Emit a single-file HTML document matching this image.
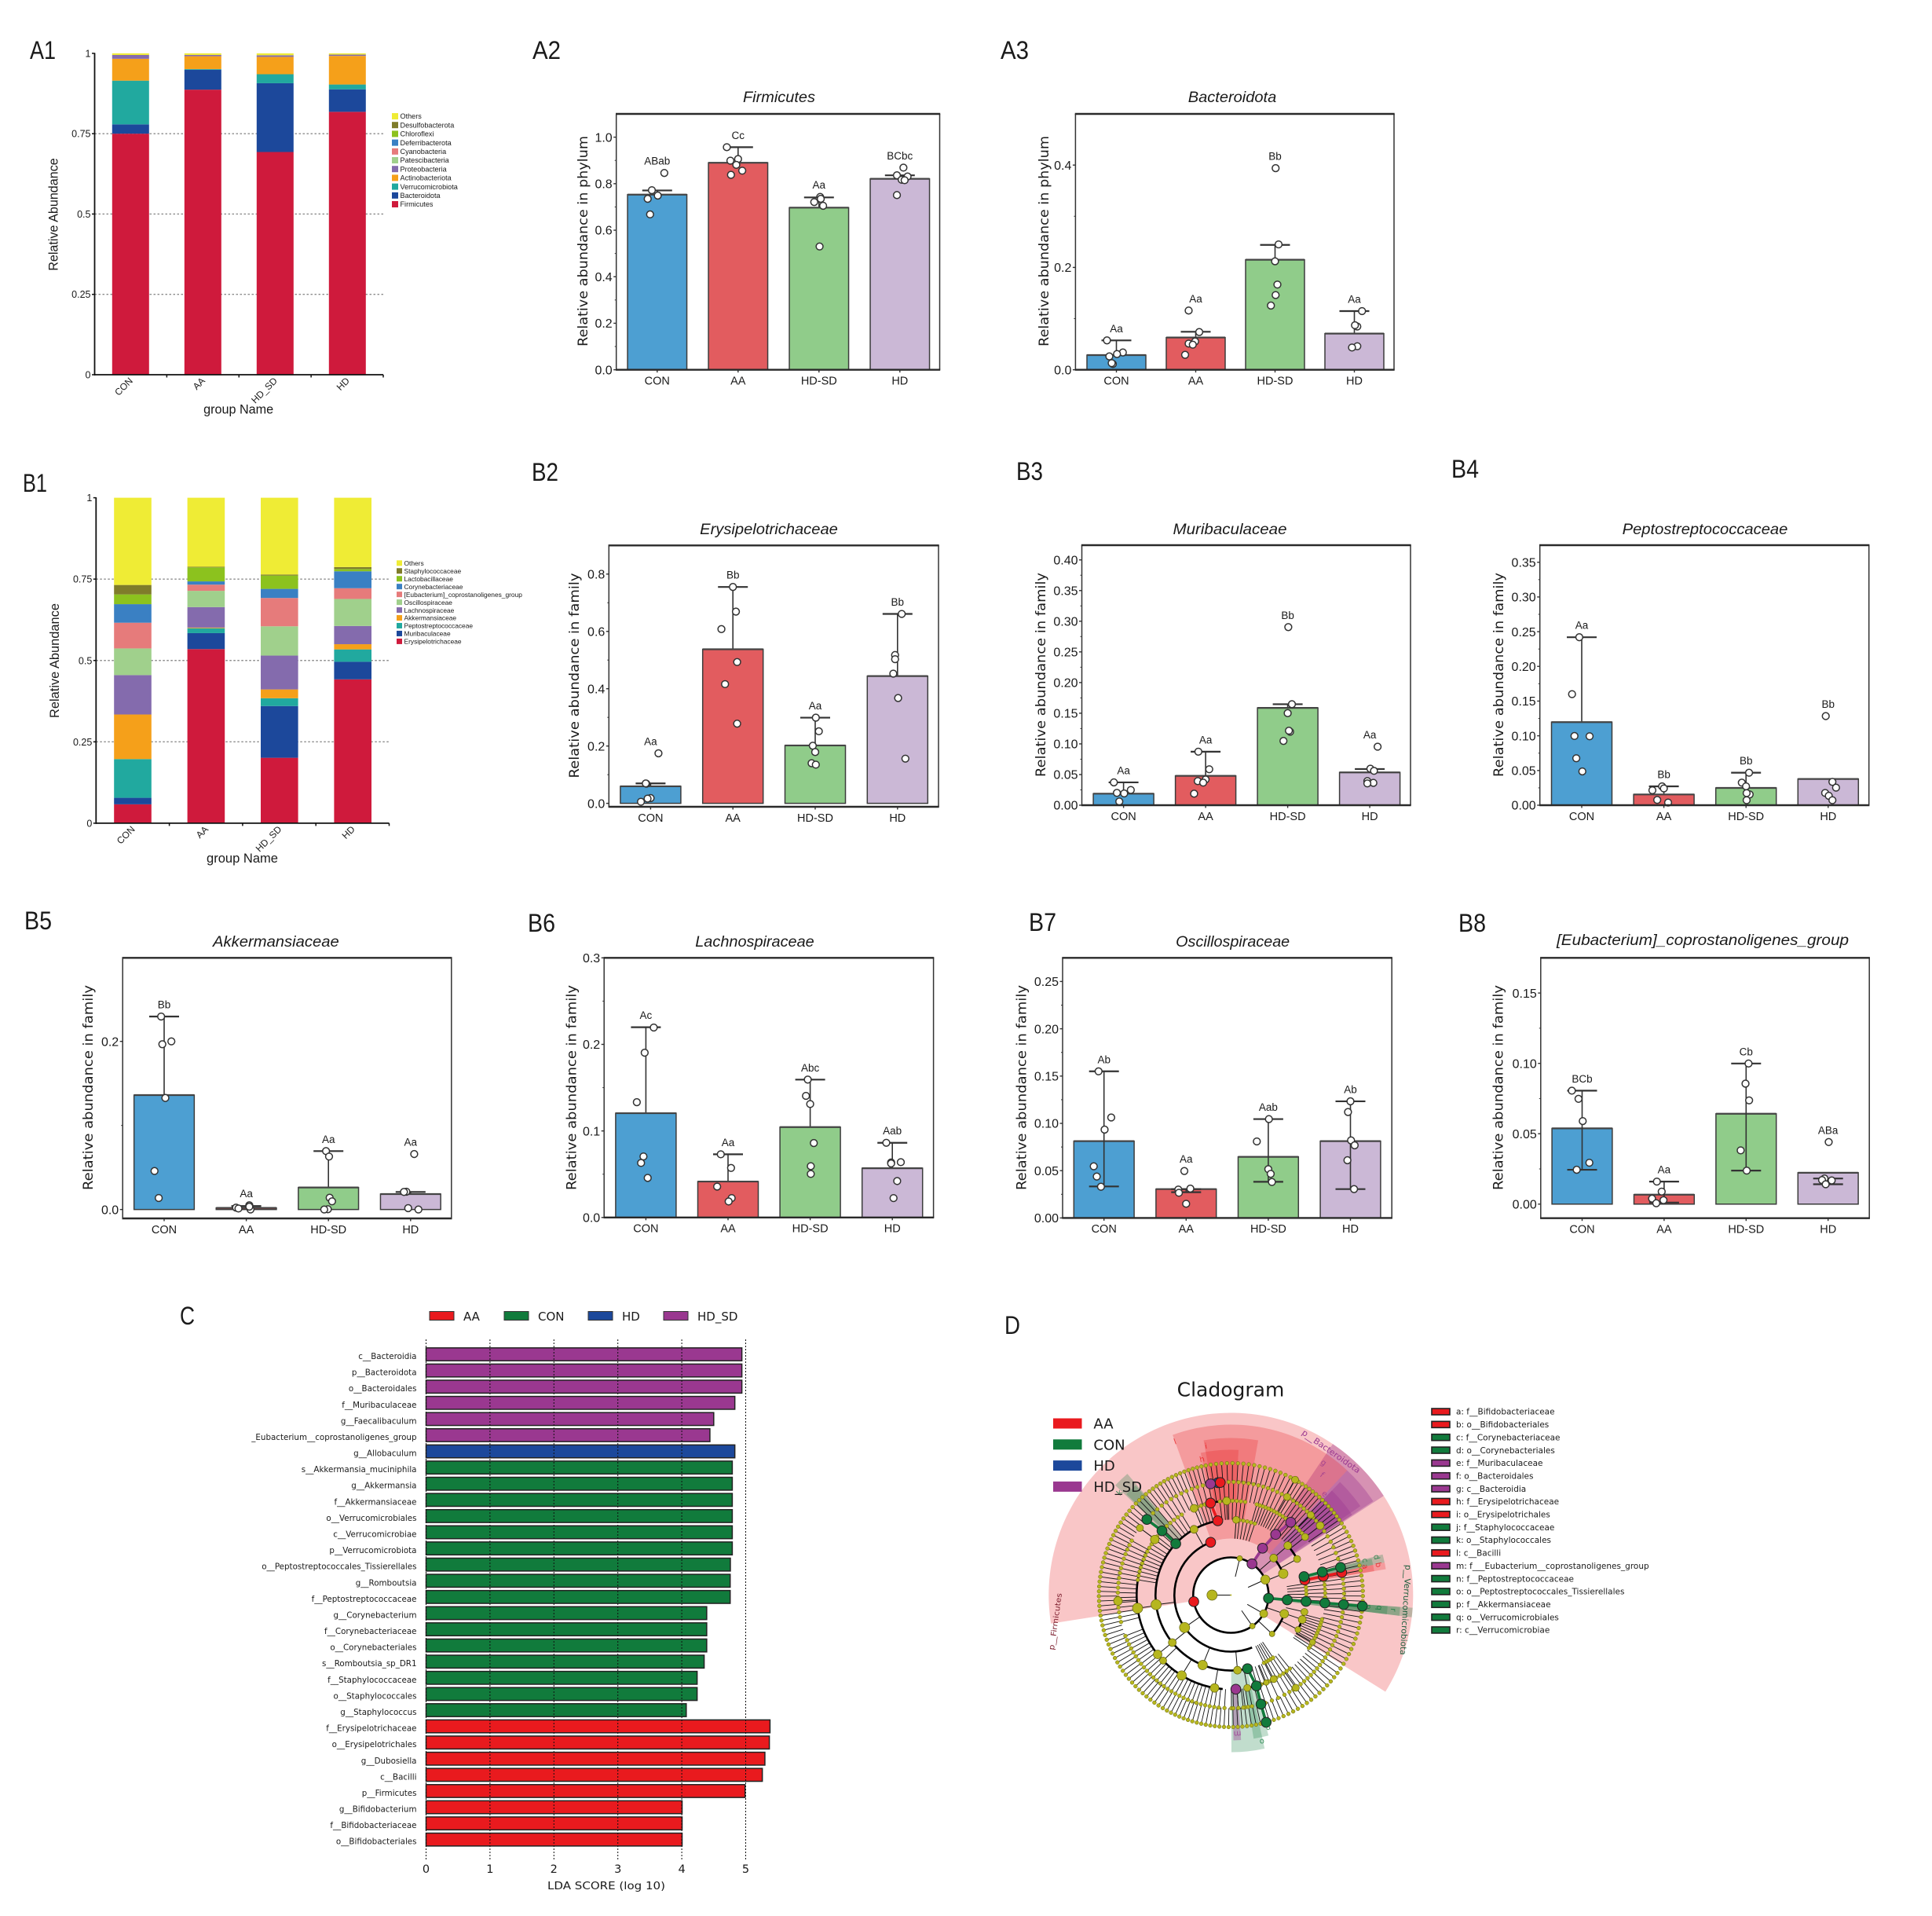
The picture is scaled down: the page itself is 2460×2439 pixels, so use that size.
<!DOCTYPE html>
<html lang="en">
<head>
<meta charset="utf-8">
<title>Gut microbiota composition panels</title>
<style>
html,body{margin:0;padding:0;background:#fff;}
svg{display:block;}
text{fill:#1a1a1a;}
</style>
</head>
<body>
<svg id="figure" xmlns="http://www.w3.org/2000/svg" width="2460" height="2439" viewBox="0 0 2460 2439" font-family="'Liberation Sans',sans-serif">
<rect x="0" y="0" width="2460" height="2439" fill="#fff"/>
<g font-size="32">
<text x="38" y="75" textLength="33" lengthAdjust="spacingAndGlyphs">A1</text>
<text x="678" y="75" textLength="36" lengthAdjust="spacingAndGlyphs">A2</text>
<text x="1274" y="75" textLength="36" lengthAdjust="spacingAndGlyphs">A3</text>
<text x="29" y="626" textLength="31" lengthAdjust="spacingAndGlyphs">B1</text>
<text x="677" y="612" textLength="34" lengthAdjust="spacingAndGlyphs">B2</text>
<text x="1294" y="611" textLength="34" lengthAdjust="spacingAndGlyphs">B3</text>
<text x="1848" y="608" textLength="35" lengthAdjust="spacingAndGlyphs">B4</text>
<text x="31" y="1183" textLength="35" lengthAdjust="spacingAndGlyphs">B5</text>
<text x="672" y="1186" textLength="35" lengthAdjust="spacingAndGlyphs">B6</text>
<text x="1310" y="1185" textLength="35" lengthAdjust="spacingAndGlyphs">B7</text>
<text x="1857" y="1186" textLength="35" lengthAdjust="spacingAndGlyphs">B8</text>
<text x="229" y="1686" textLength="19" lengthAdjust="spacingAndGlyphs">C</text>
<text x="1279" y="1698" textLength="20" lengthAdjust="spacingAndGlyphs">D</text>
</g>
<g id="panel-a1"></g>
<g id="panel-b1"></g>
<g id="panel-a2"></g>
<g id="panel-a3"></g>
<g id="panel-b2"></g>
<g id="panel-b3"></g>
<g id="panel-b4"></g>
<g id="panel-b5"></g>
<g id="panel-b6"></g>
<g id="panel-b7"></g>
<g id="panel-b8"></g>
<g id="panel-c"></g>
<g id="panel-d"></g>
</svg>
<script>
/* ---------- shared categories ---------- */
const barGroups=['CON','AA','HD-SD','HD'];
const stackGroups=['CON','AA','HD_SD','HD'];
const stackTickLabels=['0','0.25','0.5','0.75','1'];

/* ---------- A1 stacked phylum values ---------- */
const a1Taxa=['Firmicutes','Bacteroidota','Verrucomicrobiota','Actinobacteriota','Proteobacteria','Patescibacteria','Cyanobacteria','Deferribacterota','Chloroflexi','Desulfobacterota','Others'];
const a1Firmicutes=[.750,.887,.693,.818];
const a1Bacteroidota=[.029,.062,.214,.070];
const a1Verrucomicrobiota=[.136,.002,.028,.015];
const a1Actinobacteriota=[.068,.040,.054,.089];
const a1Proteobacteria=[.012,.004,.005,.004];
const a1Patescibacteria=[0,0,0,0];
const a1Cyanobacteria=[0,0,0,0];
const a1Deferribacterota=[0,0,0,0];
const a1Chloroflexi=[0,0,0,0];
const a1Desulfobacterota=[0,0,0,0];
const a1Others=[.005,.005,.006,.004];

/* ---------- B1 stacked family values ---------- */
const b1Taxa=['Erysipelotrichaceae','Muribaculaceae','Peptostreptococcaceae','Akkermansiaceae','Lachnospiraceae','Oscillospiraceae','[Eubacterium]_coprostanoligenes_group','Corynebacteriaceae','Lactobacillaceae','Staphylococcaceae','Others'];
const b1Erysipelotrichaceae=[.058,.535,.201,.442];
const b1Muribaculaceae=[.020,.049,.159,.054];
const b1Peptostreptococcaceae=[.119,.015,.024,.038];
const b1Akkermansiaceae=[.137,.002,.027,.016];
const b1Lachnospiraceae=[.121,.063,.104,.056];
const b1Oscillospiraceae=[.082,.050,.090,.083];
const b1Eubacterium=[.079,.019,.087,.033];
const b1Corynebacteriaceae=[.057,.010,.028,.052];
const b1Lactobacillaceae=[.030,.043,.041,.007];
const b1Staphylococcaceae=[.029,.002,.003,.006];
const b1Others=[.268,.212,.236,.213];

/* ---------- bar panels ---------- */
const a2TickLabels=['0.0','0.2','0.4','0.6','0.8','1.0'];
const a2Means=[.753,.890,.697,.821];
const a2High=[.771,.957,.741,.836];
const a2Low=[null,null,null,null];
const a2Points=[[.846,.772,.749,.735,.668],[.957,.906,.899,.881,.856,.838],[.743,.721,.735,.705,.530],[.869,.836,.831,.817,.815,.751]];
const a2Jitter=[[.12,-.09,.01,-.16,-.12],[-.19,0,-.13,-.03,.07,-.12],[.02,-.08,.03,.07,.01],[.06,-.05,.13,.03,.08,-.05]];
const a2Letters=['ABab','Cc','Aa','BCbc'];

const a3TickLabels=['0.0','0.2','0.4'];
const a3Means=[.0287,.063,.215,.0707];
const a3High=[.0574,.0743,.244,.1147];
const a3Low=[null,null,null,null];
const a3Points=[[.0574,.0338,.0307,.0261,.0113,.013],[.1157,.0737,.0553,.0512,.049,.0292],[.394,.245,.212,.1665,.146,.1255],[.1147,.0845,.087,.046,.0435]];
const a3Jitter=[[-.16,.11,.01,-.12,-.06,-.08],[-.12,.06,-.01,-.12,-.05,-.18],[.01,.06,0,.04,.01,-.07],[.13,.05,.01,.05,-.04]];
const a3Letters=['Aa','Aa','Bb','Aa'];

const b2TickLabels=['0.0','0.2','0.4','0.6','0.8'];
const b2Means=[.0594,.5376,.202,.444];
const b2High=[.0695,.755,.299,.661];
const b2Low=[null,null,null,null];
const b2Points=[[.1746,.0686,.0183,.0055,.0165,.0695],[.755,.669,.608,.493,.416,.278],[.299,.2514,.201,.179,.14,.135],[.661,.5175,.503,.4526,.3675,.156]];
const b2Jitter=[[.13,-.07,0,-.16,-.05,-.08],[0,.05,-.19,.07,-.13,.07],[.01,.06,-.04,0,-.06,.01],[.07,-.04,-.04,-.07,.01,.13]];
const b2Letters=['Aa','Bb','Aa','Bb'];

const b3TickLabels=['0.00','0.05','0.10','0.15','0.20','0.25','0.30','0.35','0.40'];
const b3Means=[.0188,.0479,.1587,.0535];
const b3High=[.0372,.0873,.1647,.059];
const b3Low=[null,null,null,null];
const b3Points=[[.0372,.0248,.0201,.0192,.006],[.0873,.0586,.0419,.0393,.0368,.0188],[.2904,.1647,.1501,.1198,.1215,.1048],[.0954,.0595,.056,.0393,.0364,.0355]];
const b3Jitter=[[-.16,.12,-.11,.01,-.07],[-.12,.06,0,-.13,-.04,-.19],[.01,.07,0,.04,.02,-.07],[.13,.01,.07,-.04,.06,-.04]];
const b3Letters=['Aa','Aa','Bb','Aa'];

const b4TickLabels=['0.00','0.05','0.10','0.15','0.20','0.25','0.30','0.35'];
const b4Means=[.1197,.0155,.0249,.0378];
const b4High=[.242,.0272,.0468,.0336];
const b4Low=[null,null,null,null];
const b4Points=[[.242,.160,.0997,.0993,.0676,.0487],[.0272,.0242,.0215,.0076,.0038],[.0468,.0325,.0272,.0155,.0174,.0072],[.1284,.0336,.0253,.0177,.0136,.0072]];
const b4Jitter=[[-.04,-.16,-.12,.13,-.09,.01],[-.03,0,-.19,-.11,.07],[.05,-.07,0,.06,.01,.01],[-.04,.07,.13,-.05,.01,.07]];
const b4Letters=['Aa','Bb','Bb','Bb'];

const b5TickLabels=['0.0','0.2'];
const b5Means=[.1361,.0019,.0262,.0184];
const b5High=[.2296,.0041,.0695,.0209];
const b5Low=[null,null,null,null];
const b5Points=[[.2296,.2,.1966,.1327,.0458,.0137],[.005,.0022,.0012,0,.0034],[.0695,.063,.014,.0097,.0003,0],[.066,.0212,.0209,.0016,0]];
const b5Jitter=[[-.05,.12,-.03,.02,-.16,-.09],[.05,-.17,-.13,.07,.05],[-.04,.01,.02,.06,-.01,-.07],[.06,-.07,-.11,-.04,.13]];
const b5Letters=['Bb','Aa','Aa','Aa'];

const b6TickLabels=['0.0','0.1','0.2','0.3'];
const b6Means=[.1205,.0415,.1044,.0569];
const b6High=[.2198,.073,.1593,.0863];
const b6Low=[null,null,null,null];
const b6Points=[[.2195,.1904,.1332,.0705,.063,.0457],[.073,.0572,.0357,.0224,.0185],[.1593,.1405,.1311,.086,.0593,.0503],[.0863,.0639,.0636,.0624,.0421,.0224]];
const b6Jitter=[[.13,-.02,-.15,-.04,-.08,.03],[-.12,.05,-.18,.06,.01],[-.04,-.07,0,.06,.01,.01],[-.1,.14,-.02,-.02,.08,.02]];
const b6Letters=['Ac','Aa','Abc','Aab'];

const b7TickLabels=['0.00','0.05','0.10','0.15','0.20','0.25'];
const b7Means=[.0812,.0305,.0646,.0812];
const b7High=[.155,.0305,.1045,.1233];
const b7Low=[.0333,.0272,.0382,.0305];
const b7Points=[[.155,.1062,.0934,.0546,.0438,.033],[.0496,.031,.03,.0266,.015],[.1045,.0809,.0516,.0466,.038],[.1233,.112,.082,.0768,.061,.0305]];
const b7Jitter=[[-.09,.12,.01,-.17,-.12,-.05],[-.03,.07,-.13,-.12,0],[.01,-.19,0,.04,.06],[0,-.04,.01,.07,-.05,.06]];
const b7Letters=['Ab','Aa','Aab','Ab'];

const b8TickLabels=['0.00','0.05','0.10','0.15'];
const b8Means=[.0538,.0067,.0642,.0223];
const b8High=[.0806,.016,.0999,.0182];
const b8Low=[.0244,.0011,.0238,.0141];
const b8Points=[[.0806,.0748,.059,.0294,.0244],[.016,.0089,.0039,.0028,.0006],[.0999,.0856,.0737,.0382,.0238],[.0441,.0182,.0171,.0168,.0141]];
const b8Jitter=[[-.17,-.06,.01,.12,-.09],[-.12,-.04,-.2,-.01,-.13],[.04,-.01,.05,-.09,.01],[.01,-.06,-.1,.06,-.04]];
const b8Letters=['BCb','Aa','Cb','ABa'];

/* ---------- C LDA values ---------- */
const ldaNames=['c__Bacteroidia','p__Bacteroidota','o__Bacteroidales','f__Muribaculaceae','g__Faecalibaculum','_Eubacterium__coprostanoligenes_group','g__Allobaculum','s__Akkermansia_muciniphila','g__Akkermansia','f__Akkermansiaceae','o__Verrucomicrobiales','c__Verrucomicrobiae','p__Verrucomicrobiota','o__Peptostreptococcales_Tissierellales','g__Romboutsia','f__Peptostreptococcaceae','g__Corynebacterium','f__Corynebacteriaceae','o__Corynebacteriales','s__Romboutsia_sp_DR1','f__Staphylococcaceae','o__Staphylococcales','g__Staphylococcus','f__Erysipelotrichaceae','o__Erysipelotrichales','g__Dubosiella','c__Bacilli','p__Firmicutes','g__Bifidobacterium','f__Bifidobacteriaceae','o__Bifidobacteriales'];
const ldaScores=[4.94,4.94,4.94,4.83,4.50,4.44,4.83,4.79,4.79,4.79,4.79,4.79,4.79,4.76,4.757,4.757,4.39,4.39,4.39,4.35,4.24,4.24,4.07,5.38,5.37,5.30,5.26,4.99,4.005,4.005,4.005];
const ldaClasses=['HD_SD','HD_SD','HD_SD','HD_SD','HD_SD','HD_SD','HD','CON','CON','CON','CON','CON','CON','CON','CON','CON','CON','CON','CON','CON','CON','CON','CON','AA','AA','AA','AA','AA','AA','AA','AA'];
const ldaTicks=[0,1,2,3,4,5];
const ldaLegend=['AA','CON','HD','HD_SD'];

/* ---------- D cladogram values (ring radius, angle in degrees) ---------- */
const cladeLegendNames=['AA','CON','HD','HD_SD'];
const cladeKeyLabels=['a: f__Bifidobacteriaceae','b: o__Bifidobacteriales','c: f__Corynebacteriaceae','d: o__Corynebacteriales','e: f__Muribaculaceae','f: o__Bacteroidales','g: c__Bacteroidia','h: f__Erysipelotrichaceae','i: o__Erysipelotrichales','j: f__Staphylococcaceae','k: o__Staphylococcales','l: c__Bacilli','m: f___Eubacterium__coprostanoligenes_group','n: f__Peptostreptococcaceae','o: o__Peptostreptococcales_Tissierellales','p: f__Akkermansiaceae','q: o__Verrucomicrobiales','r: c__Verrucomicrobiae'];
const cladeKeyClasses=['AA','AA','CON','CON','HD_SD','HD_SD','HD_SD','AA','AA','CON','CON','AA','HD_SD','CON','CON','CON','CON','CON'];
const sectorStart=[-32,33,47,33.4,34.5,33.5,80,87,130.5,131,12,12,9.5,9.5,-7,-7,-7,-89.8,-81,-89];
const sectorEnd=[189,56,110,47,46,46,100,102,136.5,136,15,14.5,12,12,-4,-4,-4,-77.6,-75,-86];
const sectorInner=[48,48,72,72,96,120,96,120,96,120,96,120,96,120,72,96,120,96,120,120];
const sectorOuter=[232,232,217,217,200,185,200,185,203,185,200,185,200,185,232,216,200,200,185,185];
const sectorClass=['AA','HD_SD','AA','HD_SD','HD_SD','HD_SD','AA','AA','CON','CON','CON','CON','AA','AA','CON','CON','CON','CON','CON','HD_SD'];
const arcRadius=[48,72,72,72,96,96,96,120,120,120];
const arcStart=[0,111,22,-43,100,28.6,-27,158,92,-80];
const arcEnd=[360,292,41,-19,283,41,-13,265,102,-63];
const ringRadius=[168,168,168,168,168,168,168,168,168,144,144,144,144,144,144,144,144,144,144,144,120,120,120,120,120,120,120,120,120,96,96,96];
const ringStart=[-6,32,62,100,135,190,240,290,325,-3,14,-30,-60,-95,200,270,150,100,62,40,-5,40,60,80,100,120,146,-35,-75,70,-6,-65];
const ringEnd=[32,62,100,135,190,240,290,325,354,12,36,-5,-30,-60,265,280,195,135,100,62,10,60,75,98,112,143,172,-14,-50,85,10,-55];
const ringCounts=[17,16,16,18,26,23,25,15,12,6,7,10,13,10,28,4,18,12,15,10,6,9,8,7,5,8,10,12,10,5,6,5];
const nodeRadius=[24,48,48,48,48,72,72,96,96,120,144,144,144,168,72,72,96,96,96,120,120,96,120,120,96,120,144,96,120,144,72,96,120,120,96,96,120,120,120,120,144];
const nodeAngle=[180,24.3,-29.5,-55.3,76.5,22.2,40.9,41,28.6,38.1,37.9,45.1,60.2,60.9,-19.3,-43.3,-18.9,-12.9,-27.2,-30,92.6,86,113,143.9,119.3,188,143.6,187.3,219,183,215,219,224,238.5,248,-85,260,-80,-63,-68,-55];
const nodeSize=[6.5,5.8,5,3.5,3.5,6,5,5,4.5,4.5,5,4.5,4.5,4.5,5.5,3.5,5,4.5,3.8,3.8,5,4.5,5,5.5,5,6.5,4.5,6.5,5.5,5.5,6.5,5,4.5,6,6,5,5.5,4.5,4.5,3.5,4.5];
const biomarkerRadius=[48,72,96,120,144,144,144,48,72,96,120,96,120,144,96,120,144,96,120,144,48,72,96,120,144,168,96,120,144,168,120];
const biomarkerAngle=[190,111,100,102.5,96.6,95.4,100.4,56,56,53.6,50.6,137,137,138,11.5,11.5,11.5,14.2,14.2,14.2,-4.8,-4.8,-4.8,-4.8,-4.8,-4.8,-77.3,-74.3,-74.6,-74.5,-87];
const biomarkerClass=['AA','AA','AA','AA','HD','AA','HD_SD','HD_SD','HD_SD','HD_SD','HD_SD','CON','CON','CON','AA','AA','AA','CON','CON','CON','CON','CON','CON','CON','CON','CON','CON','CON','CON','CON','HD_SD'];
const sectorLetters=['h','i','l','k','g','f','e','a','c','d','b','p','q','r','m','o','n'];
const sectorLetterRadius=[177,192.5,208,193,206,192.5,176,175,176.7,192,192,176,190,208,177,191,176];
const sectorLetterAngle=[102,99.5,110,137.4,55,52.8,47.2,12,14.5,14.6,11.6,-4.9,-4.9,-5.2,-87.3,-78,-74.3];
const sectorLetterClass=['AA','AA','AA','CON','HD_SD','HD_SD','HD_SD','AA','CON','CON','AA','CON','CON','CON','HD_SD','CON','CON'];

/* ---------- drawing helpers ---------- */
const NS='http://www.w3.org/2000/svg';
function mk(tag,parent,attrs){
  const el=document.createElementNS(NS,tag);
  for(const k in attrs){el.setAttribute(k,attrs[k]);}
  parent.appendChild(el);
  return el;
}
function txt(parent,str,attrs){
  const el=mk('text',parent,attrs);
  el.textContent=str;
  return el;
}
const barColors=['#4d9fd2','#e25c5f','#90cc8a','#cbb8d6'];
const taxaColors=['#cf1a3c','#1c489b','#21a99f','#f5a01a','#846bad','#a0d08c','#e67b7b','#3a80c3','#8cc21e','#7f7c2a','#efec35'];
const classColors={AA:'#e91a1e',CON:'#117b3c',HD:'#1c489b',HD_SD:'#9a3890'};

/* ---------- stacked bars ---------- */
function drawStack(p){
  const g=document.getElementById(p.id);
  const yS=v=>p.y0-(v*(p.y0-p.y1));
  const xS=i=>p.firstCenter+i*p.step;
  const gridValues=[.25,.5,.75];
  gridValues.forEach(v=>{
    const el=mk('line',g,{x1:p.axisX,x2:p.axisEnd,y1:yS(v),y2:yS(v),stroke:'#8c8c8c','stroke-width':1.4,'stroke-dasharray':'2.5 2.5'});
    
    
  });
  stackGroups.forEach((name,i)=>{
    let cum=0;
    p.series.forEach((vals,s)=>{
      const h=vals[i];
      if(h>0){
        const el=mk('rect',g,{x:xS(i)-p.barW/2,y:yS(cum+h),width:p.barW,height:yS(cum)-yS(cum+h),fill:taxaColors[s]});
        
        
      }
      cum+=h;
    });
    const lx=xS(i)+3.5;
    const ly=p.y0+8.5;
    const lab=txt(g,name,{x:lx,y:ly,'font-size':12,'text-anchor':'end',transform:'rotate(-45 '+lx+' '+ly+')'});
    
    
    const tx=p.axisX+(i+1)*(p.axisEnd-p.axisX)/4;
    const tk=mk('line',g,{x1:tx,x2:tx,y1:p.y0,y2:p.y0+3.5,stroke:'#111','stroke-width':1.5});
    
    
  });
  const ax=mk('line',g,{x1:p.axisX,x2:p.axisX,y1:p.y1-.5,y2:p.y0+1,stroke:'#111','stroke-width':1.8});
  
  
  const ax2=mk('line',g,{x1:p.axisX,x2:p.axisEnd,y1:p.y0,y2:p.y0,stroke:'#111','stroke-width':1.8});
  
  
  stackTickLabels.forEach(t=>{
    const v=parseFloat(t);
    const tk=mk('line',g,{x1:p.axisX-3.5,x2:p.axisX,y1:yS(v),y2:yS(v),stroke:'#111','stroke-width':1.5});
    
    
    const lb=txt(g,t,{x:p.axisX-5,y:yS(v)+4.5,'font-size':12.5,'text-anchor':'end'});
    
    
  });
  const yt=txt(g,'Relative Abundance',{x:p.yLabelX,y:p.yLabelCy,'font-size':16.5,'text-anchor':'middle',textLength:p.yLabelLen,lengthAdjust:'spacingAndGlyphs',transform:'rotate(-90 '+p.yLabelX+' '+p.yLabelCy+')',fill:'#222'});
  
  
  const xt=txt(g,'group Name',{x:p.xLabelX,y:p.xLabelY,'font-size':16.5,'text-anchor':'middle',textLength:p.xLabelLen,lengthAdjust:'spacingAndGlyphs'});
  
  
  for(let s=p.taxa.length-1,row=0;s>=0;s--,row++){
    const ly=p.legendY+row*p.legendStep;
    const sw=mk('rect',g,{x:p.legendX,y:ly-p.swatch/2,width:p.swatch,height:p.swatch,fill:taxaColors[s]});
    
    
    const lt=txt(g,p.taxa[s],{x:p.legendX+p.swatch+2.5,y:ly+3.2,'font-size':p.legendFont,fill:'#222'});
    
    
  }
}
drawStack({id:'panel-a1',taxa:a1Taxa,series:[a1Firmicutes,a1Bacteroidota,a1Verrucomicrobiota,a1Actinobacteriota,a1Proteobacteria,a1Patescibacteria,a1Cyanobacteria,a1Deferribacterota,a1Chloroflexi,a1Desulfobacterota,a1Others],
  axisX:120.5,axisEnd:488,y0:477,y1:67.9,firstCenter:166.3,step:92,barW:47,yLabelX:73.5,yLabelCy:273,yLabelLen:143.6,xLabelX:303.6,xLabelY:526.5,xLabelLen:89,legendX:499,legendY:148,legendStep:11.2,swatch:8,legendFont:9.1});
drawStack({id:'panel-b1',taxa:b1Taxa,series:[b1Erysipelotrichaceae,b1Muribaculaceae,b1Peptostreptococcaceae,b1Akkermansiaceae,b1Lachnospiraceae,b1Oscillospiraceae,b1Eubacterium,b1Corynebacteriaceae,b1Lactobacillaceae,b1Staphylococcaceae,b1Others],
  axisX:122.3,axisEnd:495.5,y0:1047.9,y1:633.6,firstCenter:169,step:93.4,barW:47.6,yLabelX:75,yLabelCy:841,yLabelLen:146,xLabelX:308.5,xLabelY:1098,xLabelLen:91,legendX:505,legendY:716.8,legendStep:9.96,swatch:7,legendFont:8.4});

/* ---------- bar + point panels ---------- */
function drawBars(p){
  const g=document.getElementById(p.id);
  const yS=v=>p.bottom-(v-p.yMin)/(p.yMax-p.yMin)*(p.bottom-p.top);
  const xS=i=>p.first+i*p.step;
  const title=txt(g,p.title,{x:p.titleX,y:p.titleY,'font-size':19,'font-style':'italic','text-anchor':'middle',textLength:p.titleLen,lengthAdjust:'spacingAndGlyphs'});
  
  
  const yt=txt(g,p.yTitle,{x:p.yTitleX,y:p.yTitleCy,'font-size':17,'font-family':"'DejaVu Sans',sans-serif",'text-anchor':'middle',textLength:p.yTitleLen,lengthAdjust:'spacingAndGlyphs',transform:'rotate(-90 '+p.yTitleX+' '+p.yTitleCy+')',fill:'#222'});
  
  
  p.ticks.forEach((t,k)=>{
    const v=parseFloat(t);
    const tk=mk('line',g,{x1:p.left-3.5,x2:p.left,y1:yS(v),y2:yS(v),stroke:'#333','stroke-width':1.4});
    
    
    const lb=txt(g,t,{x:p.left-5,y:yS(v)+5.7,'font-size':16,'text-anchor':'end'});
    
    
    if(k>0||p.ticks.length>1){
      const next=k<p.ticks.length-1?parseFloat(p.ticks[k+1]):v+(v-parseFloat(p.ticks[k-1]));
      const mid=(v+next)/2;
      if(mid<p.yMax){
        const mn=mk('line',g,{x1:p.left-2,x2:p.left,y1:yS(mid),y2:yS(mid),stroke:'#333','stroke-width':1});
        
        
      }
    }
  });
  barGroups.forEach((name,i)=>{
    const cx=xS(i);
    const over=p.low[i]!==null;
    const drawErr=()=>{
      const from=over?p.low[i]:p.means[i];
      const v=mk('line',g,{x1:cx,x2:cx,y1:yS(p.high[i]),y2:yS(from),stroke:'#333','stroke-width':1.6});
      
      
      const c=mk('line',g,{x1:cx-19,x2:cx+19,y1:yS(p.high[i]),y2:yS(p.high[i]),stroke:'#333','stroke-width':2.2});
      
      
      if(over){
        const c2=mk('line',g,{x1:cx-19,x2:cx+19,y1:yS(p.low[i]),y2:yS(p.low[i]),stroke:'#333','stroke-width':2.2});
        
        
      }
    };
    if(!over){drawErr();}
    const b=mk('rect',g,{x:cx-p.barW/2,y:yS(p.means[i]),width:p.barW,height:yS(0)-yS(p.means[i]),fill:barColors[i],stroke:'#3c3c3c','stroke-width':1.5});
    
    
    const topLine=mk('line',g,{x1:cx-p.barW/2,x2:cx+p.barW/2,y1:yS(p.means[i]),y2:yS(p.means[i]),stroke:'#444','stroke-width':2.2});
    
    
    if(over){drawErr();}
    p.points[i].forEach((val,j)=>{
      const pt=mk('circle',g,{cx:cx+p.jitter[i][j]*p.barW,cy:yS(val),r:4.4,fill:'#fff',stroke:'#333','stroke-width':1.5});
      
      
    });
    const peak=Math.max(p.high[i],...p.points[i]);
    const lt=txt(g,p.letters[i],{x:cx,y:yS(peak)-10.5,'font-size':13.5,'text-anchor':'middle'});
    
    
    const tk=mk('line',g,{x1:cx,x2:cx,y1:p.bottom,y2:p.bottom+3.5,stroke:'#333','stroke-width':1.4});
    
    
    const cl=txt(g,name,{x:cx,y:p.bottom+18.8,'font-size':14.5,'text-anchor':'middle'});
    
    
  });
  const fl=mk('line',g,{x1:p.left,x2:p.left,y1:p.top,y2:p.bottom,stroke:'#333','stroke-width':1.5});
  
  
  const fr=mk('line',g,{x1:p.right,x2:p.right,y1:p.top,y2:p.bottom,stroke:'#333','stroke-width':1.5});
  
  
  const ft=mk('line',g,{x1:p.left-.7,x2:p.right+.7,y1:p.top,y2:p.top,stroke:'#2a2a2a','stroke-width':2.4});
  
  
  const fb=mk('line',g,{x1:p.left-.7,x2:p.right+.7,y1:p.bottom,y2:p.bottom,stroke:'#2a2a2a','stroke-width':2.4});
  
  
}
const phylumTitle='Relative abundance in phylum';
const familyTitle='Relative abundance in family';
drawBars({id:'panel-a2',title:'Firmicutes',titleX:992,titleY:130,titleLen:92,yTitle:phylumTitle,yTitleX:748,yTitleCy:307,yTitleLen:268,left:784.7,right:1196.5,top:145,bottom:470.7,yMin:0,yMax:1.1,first:836.8,step:103,barW:75.5,ticks:a2TickLabels,means:a2Means,high:a2High,low:a2Low,points:a2Points,jitter:a2Jitter,letters:a2Letters});
drawBars({id:'panel-a3',title:'Bacteroidota',titleX:1569,titleY:130,titleLen:112.5,yTitle:phylumTitle,yTitleX:1335,yTitleCy:307,yTitleLen:268,left:1369.4,right:1775,top:145,bottom:470.7,yMin:0,yMax:.5,first:1421.5,step:101,barW:75,ticks:a3TickLabels,means:a3Means,high:a3High,low:a3Low,points:a3Points,jitter:a3Jitter,letters:a3Letters});
drawBars({id:'panel-b2',title:'Erysipelotrichaceae',titleX:979,titleY:680,titleLen:175.7,yTitle:familyTitle,yTitleX:737,yTitleCy:860,yTitleLen:261,left:775.3,right:1195,top:694.3,bottom:1027,yMin:-.012,yMax:.9,first:828.4,step:104.8,barW:77,ticks:b2TickLabels,means:b2Means,high:b2High,low:b2Low,points:b2Points,jitter:b2Jitter,letters:b2Letters});
drawBars({id:'panel-b3',title:'Muribaculaceae',titleX:1566,titleY:680,titleLen:145,yTitle:familyTitle,yTitleX:1331,yTitleCy:859,yTitleLen:260,left:1377.5,right:1796,top:694,bottom:1025,yMin:0,yMax:.424,first:1430.6,step:104.5,barW:77,ticks:b3TickLabels,means:b3Means,high:b3High,low:b3Low,points:b3Points,jitter:b3Jitter,letters:b3Letters});
drawBars({id:'panel-b4',title:'Peptostreptococcaceae',titleX:2171,titleY:680,titleLen:210.7,yTitle:familyTitle,yTitleX:1914,yTitleCy:859,yTitleLen:260,left:1960.7,right:2379.7,top:694,bottom:1025,yMin:0,yMax:.3746,first:2014,step:104.6,barW:77,ticks:b4TickLabels,means:b4Means,high:b4High,low:b4Low,points:b4Points,jitter:b4Jitter,letters:b4Letters});
drawBars({id:'panel-b5',title:'Akkermansiaceae',titleX:351.4,titleY:1205,titleLen:160.7,yTitle:familyTitle,yTitleX:118,yTitleCy:1384.5,yTitleLen:261,left:156.2,right:574.8,top:1219.3,bottom:1551,yMin:-.0106,yMax:.2994,first:209,step:104.6,barW:76.7,ticks:b5TickLabels,means:b5Means,high:b5High,low:b5Low,points:b5Points,jitter:b5Jitter,letters:b5Letters});
drawBars({id:'panel-b6',title:'Lachnospiraceae',titleX:961,titleY:1205,titleLen:151.5,yTitle:familyTitle,yTitleX:733.5,yTitleCy:1384.5,yTitleLen:261,left:769.2,right:1188.6,top:1219.3,bottom:1549.8,yMin:0,yMax:.3,first:822.4,step:104.6,barW:77,ticks:b6TickLabels,means:b6Means,high:b6High,low:b6Low,points:b6Points,jitter:b6Jitter,letters:b6Letters});
drawBars({id:'panel-b7',title:'Oscillospiraceae',titleX:1569.7,titleY:1205,titleLen:145,yTitle:familyTitle,yTitleX:1306.5,yTitleCy:1384.5,yTitleLen:261,left:1353,right:1772.2,top:1219.3,bottom:1550.4,yMin:0,yMax:.275,first:1405.7,step:104.6,barW:76.8,ticks:b7TickLabels,means:b7Means,high:b7High,low:b7Low,points:b7Points,jitter:b7Jitter,letters:b7Letters});
drawBars({id:'panel-b8',title:'[Eubacterium]_coprostanoligenes_group',titleX:2168,titleY:1203,titleLen:372,yTitle:familyTitle,yTitleX:1913.5,yTitleCy:1384.5,yTitleLen:261,left:1961.8,right:2380.2,top:1219.3,bottom:1550.7,yMin:-.01,yMax:.175,first:2014.5,step:104.4,barW:76.8,ticks:b8TickLabels,means:b8Means,high:b8High,low:b8Low,points:b8Points,jitter:b8Jitter,letters:b8Letters});

/* ---------- C: LDA bars ---------- */
(function(){
  const g=document.getElementById('panel-c');
  const dj="'DejaVu Sans',sans-serif";
  const xS=v=>542.5+v*81.4;
  const yS=i=>1724+i*20.59;
  ldaLegend.forEach((name,i)=>{
    const sx=[547,642,749,845][i];
    const sw=mk('rect',g,{x:sx,y:1669.5,width:31,height:11,fill:classColors[name],stroke:'#333','stroke-width':1});
    
    
    const lb=txt(g,name,{x:sx+43,y:1681,'font-size':15,'font-family':dj});
    
    
  });
  ldaNames.forEach((name,i)=>{
    const b=mk('rect',g,{x:xS(0),y:yS(i)-8.2,width:xS(ldaScores[i])-xS(0),height:16.4,fill:classColors[ldaClasses[i]],stroke:'#222','stroke-width':1.5});
    
    
    const lb=txt(g,name,{x:530.5,y:yS(i)+6,'font-size':10.3,'font-family':dj,'text-anchor':'end'});
    
    
  });
  ldaTicks.forEach(t=>{
    const gl=mk('line',g,{x1:xS(t),x2:xS(t),y1:1705,y2:2368,stroke:'#111','stroke-width':1,'stroke-dasharray':'2 2'});
    
    
    const lb=txt(g,String(t),{x:xS(t),y:2384,'font-size':14.5,'font-family':dj,'text-anchor':'middle'});
    
    
  });
  const xt=txt(g,'LDA SCORE (log 10)',{x:772,y:2405,'font-size':13.5,'font-family':dj,'text-anchor':'middle',textLength:150,lengthAdjust:'spacingAndGlyphs'});
  
  
})();

/* ---------- D: cladogram ---------- */
(function(){
  const g=document.getElementById('panel-d');
  const dj="'DejaVu Sans',sans-serif";
  const cx=1567.3,cy=2030.5;
  const px=(r,a)=>cx+r*Math.cos(a*Math.PI/180);
  const py=(r,a)=>cy-r*Math.sin(a*Math.PI/180);
  const alphaByClass={AA:.25,CON:.26,HD:.3,HD_SD:.36};
  sectorStart.forEach((s,i)=>{
    const e=sectorEnd[i],ri=sectorInner[i],ro=sectorOuter[i];
    const large=(e-s)>180?1:0;
    const d='M'+px(ro,s)+' '+py(ro,s)+'A'+ro+' '+ro+' 0 '+large+' 0 '+px(ro,e)+' '+py(ro,e)+'L'+px(ri,e)+' '+py(ri,e)+'A'+ri+' '+ri+' 0 '+large+' 1 '+px(ri,s)+' '+py(ri,s)+'Z';
    const el=mk('path',g,{d:d,fill:classColors[sectorClass[i]],'fill-opacity':alphaByClass[sectorClass[i]]});
    
    
  });
  ringStart.forEach((s,i)=>{
    const r=ringRadius[i],e=ringEnd[i],n=ringCounts[i];
    for(let k=0;k<n;k++){
      const a=s+(k+.5)*(e-s)/n;
      const sp=mk('line',g,{x1:px(r-24,a),y1:py(r-24,a),x2:px(r,a),y2:py(r,a),stroke:'#111','stroke-width':.9});
      
      
    }
  });
  nodeRadius.forEach((r,i)=>{
    const a=nodeAngle[i];
    const sp=mk('line',g,{x1:px(r-24,a),y1:py(r-24,a),x2:px(r,a),y2:py(r,a),stroke:'#111','stroke-width':1});
    
    
  });
  arcRadius.forEach((r,i)=>{
    const s=arcStart[i],e=arcEnd[i];
    let el;
    if(e-s>=360){
      el=mk('circle',g,{cx:cx,cy:cy,r:r,fill:'none',stroke:'#000','stroke-width':2.6});
    }else{
      const large=(e-s)>180?1:0;
      el=mk('path',g,{d:'M'+px(r,s)+' '+py(r,s)+'A'+r+' '+r+' 0 '+large+' 0 '+px(r,e)+' '+py(r,e),fill:'none',stroke:'#000','stroke-width':2.6});
    }
    
    
  });
  biomarkerRadius.forEach((r,i)=>{
    if(i===0||biomarkerClass[i]!==biomarkerClass[i-1]||biomarkerAngle[i-1]-biomarkerAngle[i]>3||biomarkerAngle[i]-biomarkerAngle[i-1]>3||r<=biomarkerRadius[i-1]){return;}
    const el=mk('line',g,{x1:px(biomarkerRadius[i-1],biomarkerAngle[i-1]),y1:py(biomarkerRadius[i-1],biomarkerAngle[i-1]),x2:px(r,biomarkerAngle[i]),y2:py(r,biomarkerAngle[i]),stroke:classColors[biomarkerClass[i]],'stroke-width':3.6});
    
    
  });
  ringStart.forEach((s,i)=>{
    const r=ringRadius[i],e=ringEnd[i],n=ringCounts[i];
    for(let k=0;k<n;k++){
      const a=s+(k+.5)*(e-s)/n;
      const el=mk('circle',g,{cx:px(r,a),cy:py(r,a),r:2.4,fill:'#b6b61e',stroke:'#66660f','stroke-width':.5});
      
      
    }
  });
  nodeRadius.forEach((r,i)=>{
    const el=mk('circle',g,{cx:px(r,nodeAngle[i]),cy:py(r,nodeAngle[i]),r:nodeSize[i],fill:'#b6b61e',stroke:'#66660f','stroke-width':.7});
    
    
  });
  biomarkerRadius.forEach((r,i)=>{
    const el=mk('circle',g,{cx:px(r,biomarkerAngle[i]),cy:py(r,biomarkerAngle[i]),r:6.3,fill:classColors[biomarkerClass[i]],stroke:'#222','stroke-width':1});
    
    
  });
  const root=mk('circle',g,{cx:cx,cy:cy,r:1,fill:'#b6b61e'});
  
  
  sectorLetters.forEach((t,i)=>{
    const r=sectorLetterRadius[i],a=sectorLetterAngle[i];
    const x=px(r,a),y=py(r,a);
    const el=txt(g,t,{x:x,y:y+3.5,'font-size':10,'font-family':dj,'text-anchor':'middle',transform:'rotate('+(90-a)+' '+x+' '+y+')',style:'fill:'+classColors[sectorLetterClass[i]],'fill-opacity':.8});
    
    
  });
  const t1=txt(g,'p__Firmicutes',{x:1347,y:2064.6,'font-size':9.5,'font-family':dj,'text-anchor':'middle',textLength:73,lengthAdjust:'spacingAndGlyphs',transform:'rotate(-82 1347 2064.6)',style:'fill:#7a1a2a'});
  
  
  const t2=txt(g,'p__Bacteroidota',{x:1694.4,y:1851,'font-size':10.5,'font-family':dj,'text-anchor':'middle',textLength:88,lengthAdjust:'spacingAndGlyphs',transform:'rotate(35 1694.4 1848.4)',style:'fill:#9a3890'});
  
  
  const t3=txt(g,'p__Verrucomicrobiota',{x:1788.9,y:2052,'font-size':10.5,'font-family':dj,'text-anchor':'middle',textLength:115,lengthAdjust:'spacingAndGlyphs',transform:'rotate(93.4 1788.9 2049.3)',style:'fill:#1a5c3a'});
  
  
  const title=txt(g,'Cladogram',{x:1567,y:1777.6,'font-size':25,'font-family':dj,'text-anchor':'middle'});
  
  
  cladeLegendNames.forEach((name,i)=>{
    const sw=mk('rect',g,{x:1341,y:1805.5+i*26.8,width:36.5,height:13,fill:classColors[name]});
    
    
    const lb=txt(g,name,{x:1392.4,y:1818.5+i*26.8,'font-size':18,'font-family':dj});
    
    
  });
  cladeKeyLabels.forEach((name,i)=>{
    const y=1797+i*16.35;
    const sw=mk('rect',g,{x:1823,y:y-4,width:23,height:8,fill:classColors[cladeKeyClasses[i]],stroke:'#222','stroke-width':1.6});
    
    
    const lb=txt(g,name,{x:1854,y:y+3.7,'font-size':10.5,'font-family':dj});
    
    
  });
})();
</script>
</body>
</html>
